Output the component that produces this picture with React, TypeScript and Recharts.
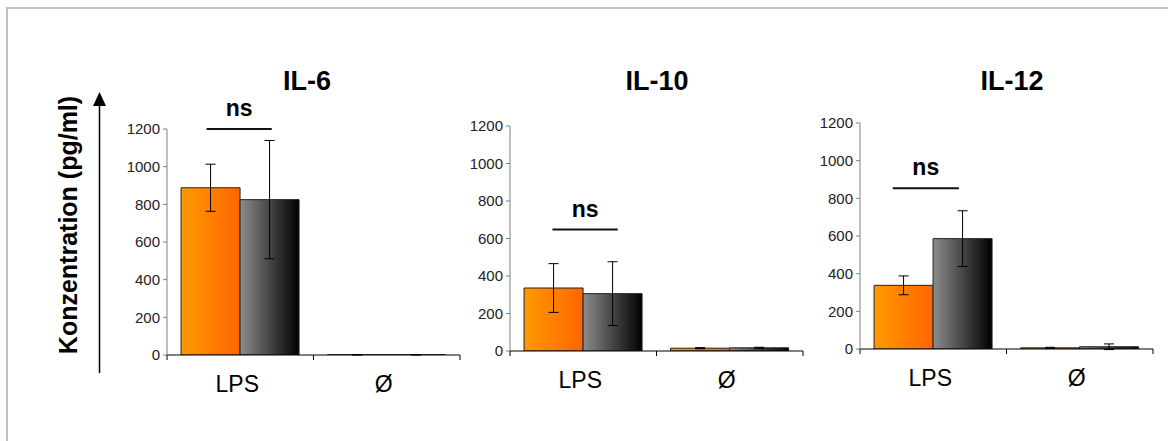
import React from "react";
import { Bar, BarChart, ErrorBar, ReferenceLine, XAxis, YAxis } from "recharts";

const categories = ["LPS", "Ø"];
const yTicks = [0, 200, 400, 600, 800, 1000, 1200];
const titles = ["IL-6", "IL-10", "IL-12"];

// orange = first group, gray = second group
const il6Orange = [888, 1];
const il6OrangeErr = [125, 1];
const il6Gray = [825, 1];
const il6GrayErr = [314, 1];

const il10Orange = [336, 15];
const il10OrangeErr = [130, 3];
const il10Gray = [306, 17];
const il10GrayErr = [170, 3];

const il12Orange = [338, 6];
const il12OrangeErr = [50, 3];
const il12Gray = [586, 12];
const il12GrayErr = [148, 15];

// height of the "ns" bar and its span in category-band units
const nsLevels = [1200, 648, 853];
const nsSpans = [
  [0.27, 0.715],
  [0.29, 0.735],
  [0.223, 0.675],
];

const FONT = "Arial, 'Liberation Sans', sans-serif";

// plot boxes on the page: left, right, top (1200), bottom (0)
const boxes = [
  { x0: 167, x1: 460, yT: 129, yB: 355, titleX: 307 },
  { x0: 510, x1: 803, yT: 126, yB: 351, titleX: 657 },
  { x0: 860, x1: 1153, yT: 123, yB: 349, titleX: 1012 },
];

const seriesSets = [
  [il6Orange, il6OrangeErr, il6Gray, il6GrayErr],
  [il10Orange, il10OrangeErr, il10Gray, il10GrayErr],
  [il12Orange, il12OrangeErr, il12Gray, il12GrayErr],
];

function CategoryTick(props: any) {
  const { x, y, payload, index, band, count } = props;
  return (
    <g>
      <line x1={x - band / 2} x2={x - band / 2} y1={y} y2={y + 5} stroke="#000" />
      {index === count - 1 && <line x1={x + band / 2} x2={x + band / 2} y1={y} y2={y + 5} stroke="#000" />}
      <text x={x - 3} y={y + 37} textAnchor="middle" fontFamily={FONT} fontSize={23} fill="#000">
        {payload.value}
      </text>
    </g>
  );
}

function Panel({ idx }: { idx: number }) {
  const b = boxes[idx];
  const [o, oe, g, ge] = seriesSets[idx];
  const data = categories.map((c, i) => ({ name: c, orange: o[i], oErr: oe[i], gray: g[i], gErr: ge[i] }));
  const plotW = b.x1 - b.x0;
  const band = plotW / categories.length;
  const span = nsSpans[idx];
  const yAxisW = 60;
  const mTop = 45;
  const xAxisH = 50;
  return (
    <div style={{ position: "absolute", left: b.x0 - yAxisW, top: b.yT - mTop }}>
      <BarChart
        width={plotW + yAxisW + 5}
        height={b.yB - b.yT + mTop + xAxisH}
        data={data}
        margin={{ top: mTop, right: 5, bottom: 0, left: 0 }}
        barCategoryGap="9.6%"
        barGap={0}
      >
        <defs>
          <linearGradient id={`orangeGrad${idx}`} x1="0" y1="0" x2="1" y2="0">
            <stop offset="0%" stopColor="#ff9900" />
            <stop offset="100%" stopColor="#ff6600" />
          </linearGradient>
          <linearGradient id={`grayGrad${idx}`} x1="0" y1="0" x2="1" y2="0">
            <stop offset="0%" stopColor="#8c8c8c" />
            <stop offset="100%" stopColor="#000000" />
          </linearGradient>
        </defs>
        <XAxis
          dataKey="name"
          height={xAxisH}
          axisLine={{ stroke: "#000" }}
          tickLine={false}
          tickSize={0}
          tickMargin={0}
          interval={0}
          tick={(p: any) => <CategoryTick {...p} band={band} count={categories.length} />}
        />
        <YAxis
          width={yAxisW}
          domain={[0, 1200]}
          ticks={yTicks}
          allowDataOverflow
          interval={0}
          axisLine={{ stroke: "#808080" }}
          tickLine={{ stroke: "#808080" }}
          tickSize={4}
          tickMargin={3}
          tick={{ fontSize: 15, fontFamily: FONT, fill: "#222" }}
        />
        <Bar dataKey="orange" fill={`url(#orangeGrad${idx})`} stroke="#222" strokeWidth={1} isAnimationActive={false}>
          <ErrorBar dataKey="oErr" width={5} stroke="#000" strokeWidth={1} direction="y" />
        </Bar>
        <Bar dataKey="gray" fill={`url(#grayGrad${idx})`} stroke="#222" strokeWidth={1} isAnimationActive={false}>
          <ErrorBar dataKey="gErr" width={5} stroke="#000" strokeWidth={1} direction="y" />
        </Bar>
        <ReferenceLine
          y={nsLevels[idx]}
          shape={(p: any) => {
            const w = (p.x2 - p.x1) / categories.length;
            const sx = p.x1 + span[0] * w;
            const ex = p.x1 + span[1] * w;
            return (
              <g>
                <line x1={sx} x2={ex} y1={p.y1} y2={p.y1} stroke="#111" strokeWidth={2} />
                <text
                  x={(sx + ex) / 2}
                  y={p.y1 - 13}
                  textAnchor="middle"
                  fontFamily={FONT}
                  fontWeight="bold"
                  fontSize={23}
                  fill="#000"
                >
                  ns
                </text>
              </g>
            );
          }}
        />
      </BarChart>
    </div>
  );
}

export default function App() {
  return (
    <div style={{ position: "fixed", left: 0, top: 0, width: 1168, height: 441, background: "#fff", overflow: "hidden" }}>
      <svg width={1168} height={441} style={{ position: "absolute", left: 0, top: 0, display: "block" }}>
        {/* outer frame, only left and top edges are visible */}
        <path d="M7,441 L7,8 L1168,8" fill="none" stroke="#c0c0c0" strokeWidth={2} />
        {titles.map((t, i) => (
          <text key={t} x={boxes[i].titleX} y={90} textAnchor="middle" fontFamily={FONT} fontWeight="bold" fontSize={27} fill="#000">
            {t}
          </text>
        ))}
        <text
          transform="translate(77,225) rotate(-90)"
          textAnchor="middle"
          fontFamily={FONT}
          fontWeight="bold"
          fontSize={25}
          fill="#000"
        >
          Konzentration (pg/ml)
        </text>
        <line x1={99.5} x2={99.5} y1={373} y2={104} stroke="#000" strokeWidth={1.5} />
        <polygon points="99.5,92 93,106 106,106" fill="#000" />
      </svg>
      {boxes.map((_, i) => (
        <Panel key={i} idx={i} />
      ))}
    </div>
  );
}
